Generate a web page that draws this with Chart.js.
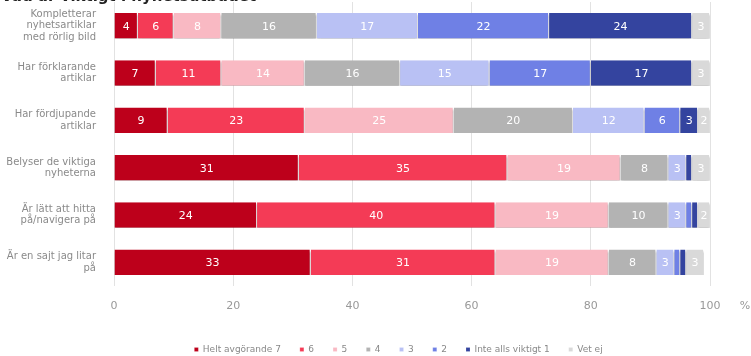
<!DOCTYPE html>
<html>
<head>
<meta charset="utf-8">
<script src="https://cdn.jsdelivr.net/npm/chart.js@4"></script>
<style>
  html, body { margin: 0; padding: 0; background: #fff; }
  #wrap { width: 751px; height: 356px; position: relative; }
</style>
</head>
<body>
<div id="wrap"><canvas id="stapel"></canvas></div>
<script>
const rubrik = "Vad är viktigt i nyhetsutbudet";

const pastaenden = [
  ["Kompletterar", "nyhetsartiklar", "med rörlig bild"],
  ["Har förklarande", "artiklar"],
  ["Har fördjupande", "artiklar"],
  ["Belyser de viktiga", "nyheterna"],
  ["Är lätt att hitta", "på/navigera på"],
  ["Är en sajt jag litar", "på"],
];

const svarsnamn = ["Helt avgörande 7", "6", "5", "4", "3", "2", "Inte alls viktigt 1", "Vet ej"];

const helt7 = [4, 7, 9, 31, 24, 33];
const sex = [6, 11, 23, 35, 40, 31];
const fem = [8, 14, 25, 19, 19, 19];
const fyra = [16, 16, 20, 8, 10, 8];
const tre = [17, 15, 12, 3, 3, 3];
const tva = [22, 17, 6, 0, 1, 1];
const inteAlls1 = [24, 17, 3, 1, 1, 1];
const vetEj = [3, 3, 2, 3, 2, 3];

const xTicks = [0, 20, 40, 60, 80, 100];

const farger = ["#bd001b", "#f43b56", "#f9b9c3", "#b3b3b3", "#b9c1f4", "#6f80e5", "#34449f", "#d9d9d9"];
const serier = [helt7, sex, fem, fyra, tre, tva, inteAlls1, vetEj];

// white value labels inside each segment
const segmentText = {
  id: "segmentText",
  afterDatasetsDraw(chart) {
    const ctx = chart.ctx;
    ctx.save();
    ctx.font = "11px 'DejaVu Sans'";
    ctx.fillStyle = "#ffffff";
    ctx.textAlign = "center";
    ctx.textBaseline = "middle";
    chart.data.datasets.forEach((ds, i) => {
      chart.getDatasetMeta(i).data.forEach((bar, j) => {
        const v = ds.data[j];
        if (v < 2) return;
        const p = bar.getProps(["x", "y", "base"], true);
        ctx.fillText(String(v), (p.x + p.base) / 2, p.y + 1);
      });
    });
    ctx.restore();
  }
};

// soft shadow under the bars
const skugga = {
  id: "skugga",
  beforeDatasetsDraw(chart) {
    const ctx = chart.ctx;
    ctx.save();
    ctx.shadowColor = "rgba(0,0,0,0.35)";
    ctx.shadowOffsetY = 2;
    ctx.shadowBlur = 2;
  },
  afterDatasetsDraw(chart) {
    chart.ctx.restore();
  }
};

// legend sits a bit right of the plot centre
const flyttaLegend = {
  id: "flyttaLegend",
  afterLayout(chart) {
    chart.legend.left = 46;
    chart.legend.right = 751;
  }
};

// clipped heading at the top edge and the % unit after the last tick
const extraText = {
  id: "extraText",
  afterDraw(chart) {
    const ctx = chart.ctx;
    const x = chart.scales.x;
    ctx.save();
    ctx.font = "bold 15px 'DejaVu Sans'";
    ctx.fillStyle = "#222";
    ctx.textAlign = "left";
    ctx.textBaseline = "alphabetic";
    ctx.fillText(rubrik, 1, 1);
    ctx.font = "11px 'DejaVu Sans'";
    ctx.fillStyle = "#999";
    ctx.textAlign = "center";
    ctx.textBaseline = "middle";
    ctx.fillText("%", x.getPixelForValue(100) + 35, 306);
    ctx.restore();
  }
};

new Chart(document.getElementById("stapel"), {
  type: "bar",
  data: {
    labels: pastaenden,
    datasets: serier.map((d, i) => ({
      label: svarsnamn[i],
      data: d,
      backgroundColor: farger[i],
      borderColor: "rgba(255,255,255,0.7)",
      borderWidth: { right: 1, left: 0, top: 0, bottom: 0 },
      borderSkipped: false,
      barPercentage: 0.9,
      categoryPercentage: 0.6,
    })),
  },
  options: {
    indexAxis: "y",
    responsive: true,
    maintainAspectRatio: false,
    animation: false,
    layout: { padding: { top: 2, right: 41, left: 0, bottom: 0 } },
    scales: {
      x: {
        stacked: true,
        min: 0,
        max: 100,
        afterBuildTicks: (s) => { s.ticks = xTicks.map((v) => ({ value: v })); },
        afterFit: (s) => { s.height = 40; s.paddingLeft = 0; s.paddingRight = 0; },
        grid: { color: "#e2e2e2", drawTicks: false },
        border: { display: false },
        ticks: { color: "#999", font: { family: "DejaVu Sans", size: 11 }, padding: 14 },
      },
      y: {
        stacked: true,
        afterFit: (s) => { s.width = 114; s.paddingTop = 0; s.paddingBottom = 0; },
        grid: { display: false },
        border: { display: false },
        ticks: { color: "#8a8a8a", font: { family: "DejaVu Sans", size: 10, lineHeight: 1.15 }, padding: 10 },
      },
    },
    plugins: {
      legend: {
        position: "bottom",
        maxHeight: 30,
        labels: {
          color: "#888",
          font: { family: "DejaVu Sans", size: 9 },
          boxWidth: 4,
          boxHeight: 4,
          padding: 19,
        },
      },
      tooltip: { enabled: false },
    },
  },
  plugins: [skugga, segmentText, flyttaLegend, extraText],
});
</script>
</body>
</html>
